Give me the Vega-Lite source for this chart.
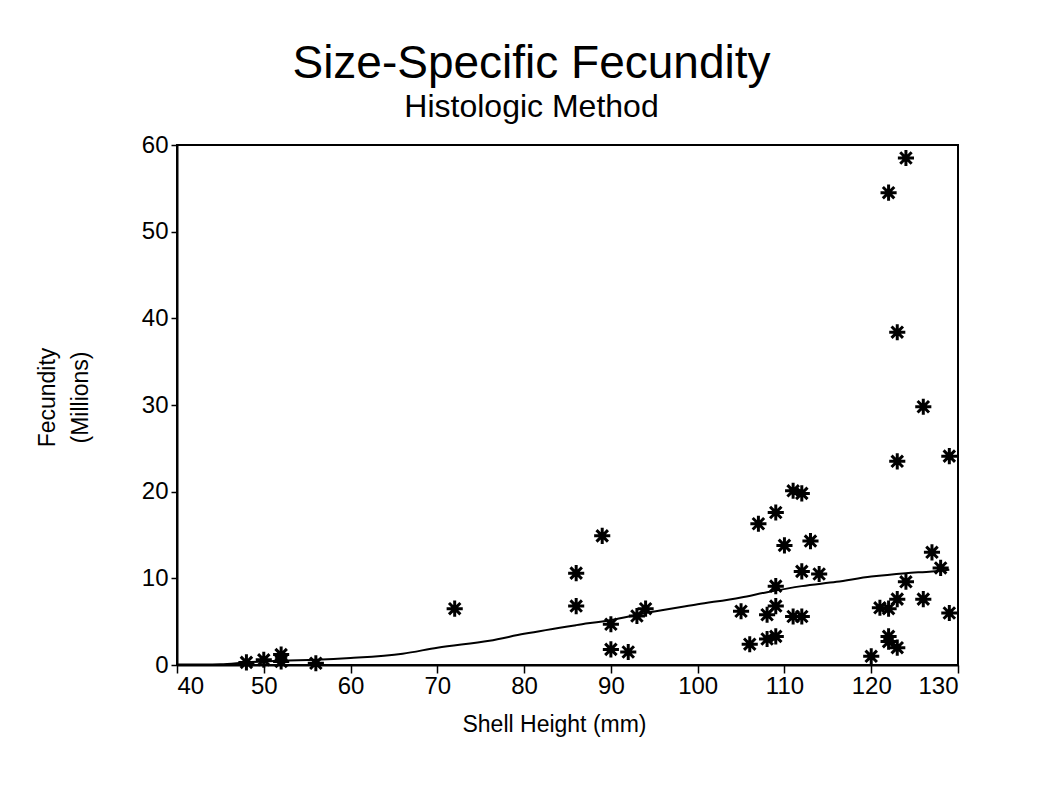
{
  "$schema": "https://vega.github.io/schema/vega-lite/v6.json",
  "width": 781,
  "height": 520,
  "autosize": {"type": "none"},
  "padding": {"left": 177, "top": 145, "right": 104, "bottom": 135},
  "background": "white",
  "title": {
    "text": "Size-Specific Fecundity",
    "subtitle": "Histologic Method",
    "anchor": "middle",
    "dx": -36,
    "offset": 9,
    "font": "Liberation Sans",
    "fontSize": 46,
    "fontWeight": "normal",
    "color": "black",
    "subtitleFont": "Liberation Sans",
    "subtitleFontSize": 32,
    "subtitleColor": "black",
    "subtitlePadding": 4
  },
  "config": {
    "view": {"stroke": "black", "strokeWidth": 2},
    "axis": {
      "grid": false,
      "domainColor": "black",
      "domainWidth": 2,
      "tickColor": "black",
      "tickWidth": 1.5,
      "labelColor": "black",
      "labelFont": "Liberation Sans",
      "labelFontSize": 24,
      "titleFont": "Liberation Sans",
      "titleFontSize": 23,
      "titleFontWeight": "normal",
      "titleColor": "black"
    }
  },
  "datasets": {
    "points": [
      {"h": 48, "f": 0.3}, {"h": 50, "f": 0.6}, {"h": 52, "f": 1.2}, {"h": 52, "f": 0.4},
      {"h": 56, "f": 0.2}, {"h": 72, "f": 6.5}, {"h": 86, "f": 10.6}, {"h": 86, "f": 6.8},
      {"h": 89, "f": 14.9}, {"h": 90, "f": 4.7}, {"h": 90, "f": 1.8}, {"h": 92, "f": 1.5},
      {"h": 93, "f": 5.65}, {"h": 94, "f": 6.5}, {"h": 105, "f": 6.2}, {"h": 106, "f": 2.4},
      {"h": 107, "f": 16.3}, {"h": 108, "f": 5.8}, {"h": 108, "f": 3.0}, {"h": 109, "f": 3.3},
      {"h": 109, "f": 17.6}, {"h": 109, "f": 9.1}, {"h": 109, "f": 6.8}, {"h": 110, "f": 13.8},
      {"h": 111, "f": 20.1}, {"h": 112, "f": 19.8}, {"h": 111, "f": 5.6}, {"h": 112, "f": 5.6},
      {"h": 112, "f": 10.8}, {"h": 113, "f": 14.3}, {"h": 114, "f": 10.5}, {"h": 124, "f": 58.5},
      {"h": 122, "f": 54.5}, {"h": 123, "f": 38.4}, {"h": 126, "f": 29.8}, {"h": 123, "f": 23.5},
      {"h": 129, "f": 24.1}, {"h": 127, "f": 13.0}, {"h": 128, "f": 11.2}, {"h": 124, "f": 9.6},
      {"h": 123, "f": 7.6}, {"h": 126, "f": 7.6}, {"h": 121, "f": 6.6}, {"h": 122, "f": 6.5},
      {"h": 129, "f": 6.0}, {"h": 122, "f": 3.3}, {"h": 122, "f": 2.7}, {"h": 123, "f": 2.0},
      {"h": 120, "f": 1.0}
    ],
    "curve": [
      {"h": 40, "f": 0.05}, {"h": 45, "f": 0.1}, {"h": 48, "f": 0.3}, {"h": 52, "f": 0.5},
      {"h": 56, "f": 0.6}, {"h": 60, "f": 0.8}, {"h": 66, "f": 1.3}, {"h": 70, "f": 2.0},
      {"h": 76, "f": 2.8}, {"h": 80, "f": 3.6}, {"h": 86, "f": 4.6}, {"h": 90, "f": 5.2},
      {"h": 94, "f": 6.0}, {"h": 100, "f": 7.0}, {"h": 105, "f": 7.8}, {"h": 108, "f": 8.4},
      {"h": 112, "f": 9.1}, {"h": 116, "f": 9.6}, {"h": 120, "f": 10.2}, {"h": 124, "f": 10.6},
      {"h": 127, "f": 10.8}, {"h": 129, "f": 11.0}
    ]
  },
  "encoding": {
    "x": {
      "field": "h", "type": "quantitative",
      "scale": {"domain": [40, 130], "nice": false, "zero": false},
      "axis": {"title": "Shell Height (mm)", "values": [40, 50, 60, 70, 80, 90, 100, 110, 120, 130], "tickSize": 8, "labelPadding": 1, "titlePadding": 15, "titleX": 377}
    },
    "y": {
      "field": "f", "type": "quantitative",
      "scale": {"domain": [0, 60], "nice": false},
      "axis": {"title": ["Fecundity", "(Millions)"], "values": [0, 10, 20, 30, 40, 50, 60], "tickSize": 6, "labelPadding": 3, "titlePadding": 49, "titleLineHeight": 33, "titleY": 252}
    }
  },
  "layer": [
    {
      "data": {"name": "curve"},
      "mark": {"type": "line", "interpolate": "monotone", "color": "black", "strokeWidth": 2}
    },
    {
      "data": {"name": "points"},
      "mark": {
        "type": "point",
        "shape": "M-1,0L1,0M0,-1L0,1M-0.71,-0.71L0.71,0.71M-0.71,0.71L0.71,-0.71",
        "filled": false,
        "stroke": "black",
        "strokeWidth": 3,
        "size": 260,
        "opacity": 1
      }
    }
  ]
}
